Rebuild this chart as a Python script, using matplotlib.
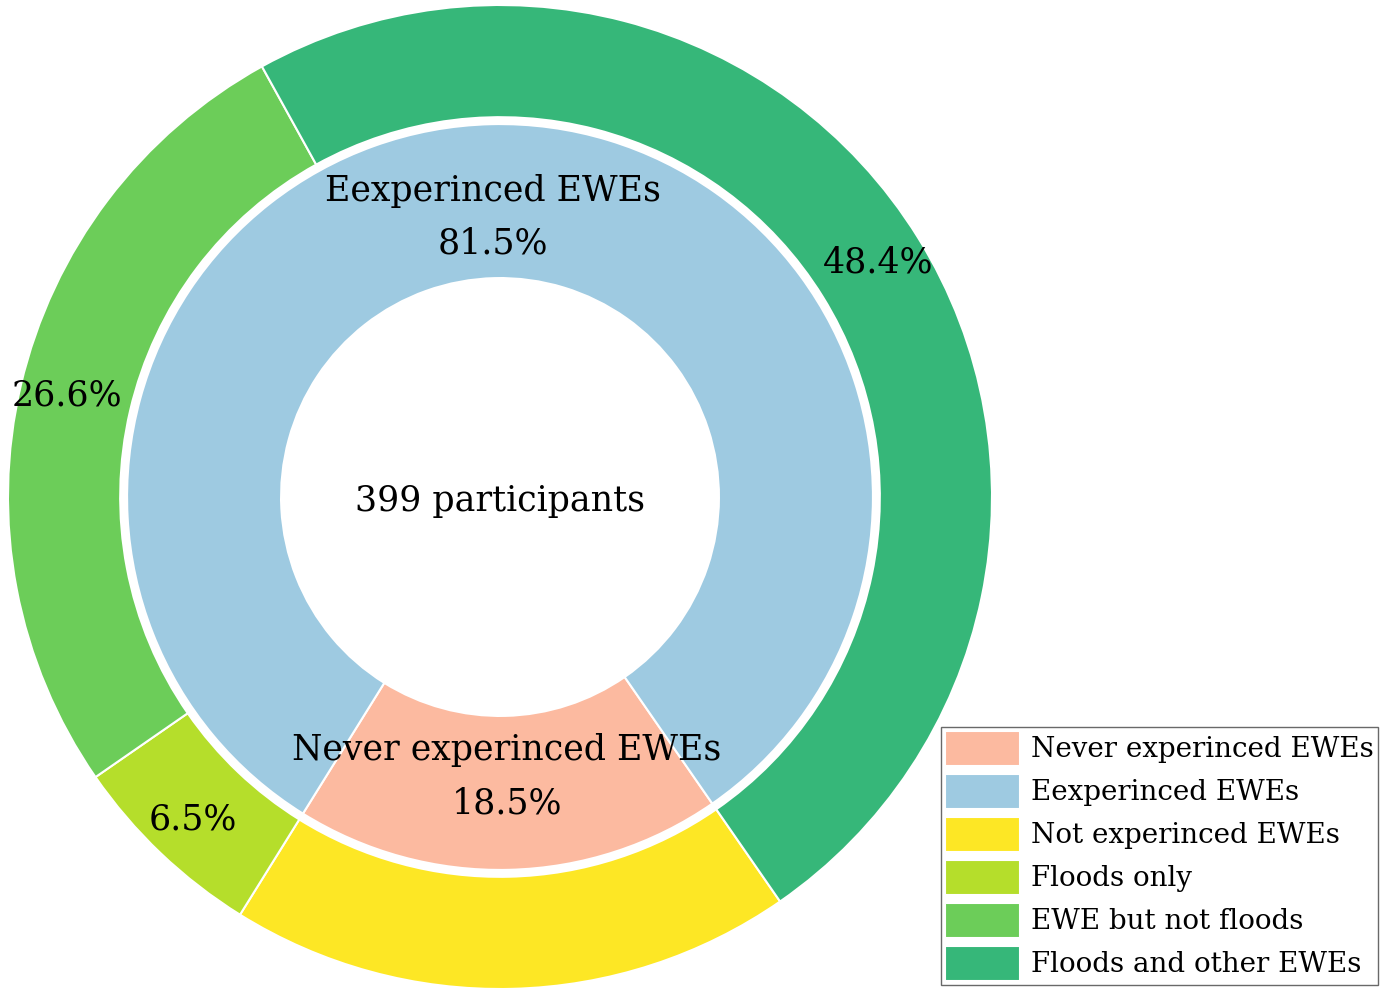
import numpy as np
import matplotlib.pyplot as plt

plt.rcParams['font.family'] = ['DejaVu Serif']

# data
inner_names = ['Never experinced EWEs', 'Eexperinced EWEs']
inner_vals = [18.5, 81.5]
outer_names = ['Not experinced EWEs', 'Floods only', 'EWE but not floods', 'Floods and other EWEs']
outer_vals = [18.5, 6.5, 26.6, 48.4]
total_participants = 399

inner_colors = ['#fcbaa0', '#9ecae1']
outer_colors = ['#fde725', '#b5de2b', '#6ccd59', '#36b779']

fig = plt.figure(figsize=(13.9, 9.9), dpi=100)
ax = fig.add_axes([8 / 1390, 1 / 990, 984 / 1390, 984 / 990])

start = 304.7

# outer ring
w_out, _, t_out = ax.pie(outer_vals, radius=1.0, colors=outer_colors, startangle=start,
                         counterclock=False, autopct='%.1f%%', pctdistance=0.905,
                         wedgeprops=dict(width=0.228, edgecolor='white', linewidth=1.5),
                         textprops=dict(fontsize=25))
t_out[0].set_text('')  # no label on the yellow wedge

# inner ring
w_in, _, t_in = ax.pie(inner_vals, radius=0.758, colors=inner_colors, startangle=start,
                       counterclock=False, autopct='%.1f%%', pctdistance=0.75,
                       wedgeprops=dict(width=0.313, edgecolor='white', linewidth=1.5),
                       textprops=dict(fontsize=25, linespacing=1.7))
for t, name, v in zip(t_in, inner_names, inner_vals):
    t.set_text(f'{name}\n{v}%')

ax.text(0, -0.008, f'{total_participants} participants', ha='center', va='center', fontsize=25)

ax.set_xlim(-1, 1)
ax.set_ylim(-1, 1)
ax.set_aspect('equal')
ax.axis('off')

leg = fig.legend(w_in + w_out, inner_names + outer_names, loc='lower right',
                 bbox_to_anchor=(1378 / 1390, 5 / 990), fontsize=20, frameon=True,
                 fancybox=False, edgecolor='#444444', handlelength=2.7, handleheight=1.56,
                 labelspacing=0.29, handletextpad=0.4, borderpad=0.15, borderaxespad=0)
leg.get_frame().set_linewidth(1.0)

fig.savefig('out.png', dpi=100)
